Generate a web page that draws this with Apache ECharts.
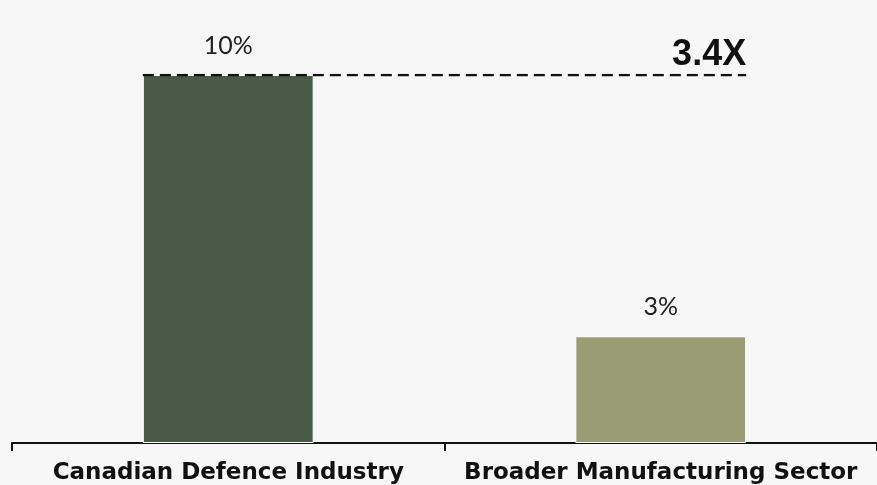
<!DOCTYPE html>
<html>
<head>
<meta charset="utf-8">
<script src="https://cdn.jsdelivr.net/npm/echarts@6/dist/echarts.min.js"></script>
<style>
  html, body { margin: 0; padding: 0; background: #f7f7f7; }
  #chart { width: 877px; height: 485px; }
</style>
</head>
<body>
<div id="chart"></div>
<script>
// data
var categories = ["Canadian Defence Industry", "Broader Manufacturing Sector"];
var values = [10, 2.9];
var barColors = ["#4a5a48", "#9a9d73"];

var barFrac = 0.395; // bar width as share of a category
var half = barFrac / 2;
var ratio = (values[0] / values[1]).toFixed(1) + "X";

var myChart = echarts.init(document.getElementById("chart"));

var option = {
  backgroundColor: "#f7f7f7",
  animation: false,
  grid: { left: 12, right: 0, top: 75, bottom: 41 },
  xAxis: [
    {
      type: "category",
      data: categories,
      axisLine: { lineStyle: { color: "#111", width: 2 } },
      axisTick: { show: true, length: 8, lineStyle: { color: "#111", width: 2 } },
      axisLabel: {
        interval: 0,
        margin: 19,
        color: "#111",
        fontFamily: "DejaVu Sans",
        fontWeight: "bold",
        fontSize: 23
      }
    },
    { type: "value", min: -0.5, max: 1.5, show: false }
  ],
  yAxis: { type: "value", min: 0, max: 10, show: false },
  series: [
    {
      type: "bar",
      barWidth: barFrac * 100 + "%",
      data: values.map(function (v, i) {
        return { value: v, itemStyle: { color: barColors[i] } };
      }),
      itemStyle: { borderColor: "#ffffff", borderWidth: 1 },
      label: {
        show: true,
        position: "top",
        distance: 17,
        color: "#222",
        fontFamily: "Lato",
        fontSize: 25,
        formatter: function (p) { return Math.round(p.value) + "%"; }
      },
      z: 2
    },
    {
      type: "line",
      xAxisIndex: 1,
      symbol: "circle",
      symbolSize: 0,
      showSymbol: true,
      lineStyle: { color: "#111", width: 2.5, type: [11, 6] },
      data: [
        [-half, values[0]],
        {
          value: [1 + half, values[0]],
          label: {
            show: true,
            position: "top",
            distance: 2,
            align: "right",
            formatter: ratio,
            color: "#111",
            fontFamily: "Liberation Sans",
            fontWeight: "bold",
            fontSize: 36
          }
        }
      ],
      z: 3
    }
  ]
};

myChart.setOption(option);
</script>
</body>
</html>
